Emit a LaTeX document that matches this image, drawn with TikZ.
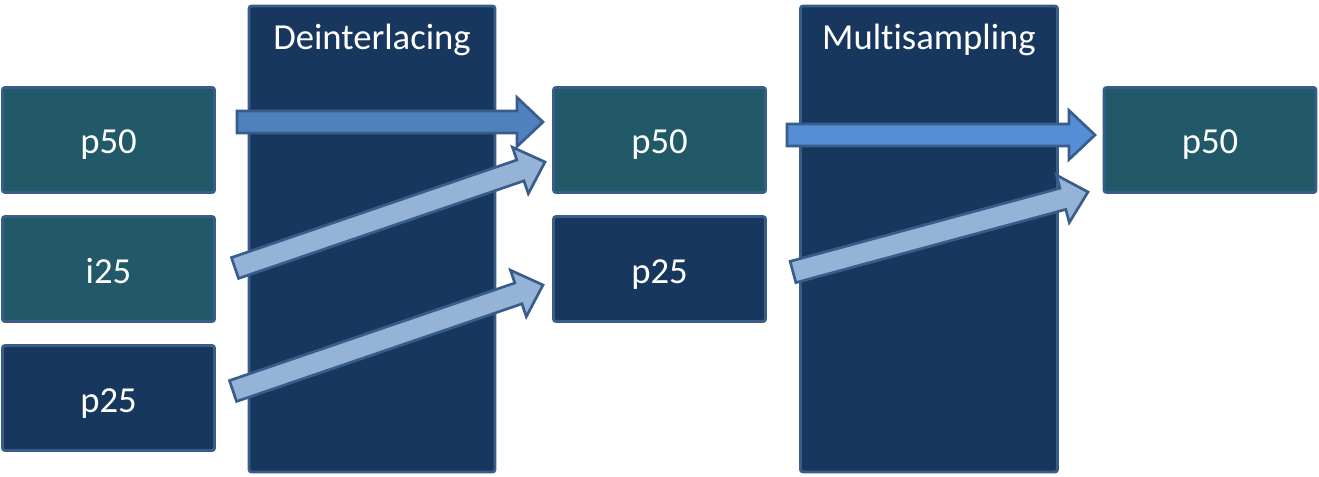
\documentclass[tikz,border=0pt]{standalone}
\usepackage{fontspec}
\setmainfont{Carlito}[Ligatures=NoCommon]
\usetikzlibrary{positioning, calc}

\definecolor{edgeblue}{HTML}{385D8A}
\definecolor{tealfill}{HTML}{215968}
\definecolor{navyfill}{HTML}{17375E}
\definecolor{flowmid}{HTML}{4F81BD}
\definecolor{flowlight}{HTML}{95B3D7}
\definecolor{flowbright}{HTML}{558ED5}

\tikzset{
  frame/.style={draw=edgeblue, line width=2.2pt, rounded corners=2pt, outer sep=0pt},
  stream/.style={frame, text=white, minimum width=159pt, minimum height=78.75pt,
    text height=21pt, text depth=0pt, font=\fontsize{27.5}{33}\selectfont},
  stage/.style={frame, fill=navyfill, minimum height=349.5pt},
  stagetitle/.style={text=white, text height=21pt, text depth=0pt,
    font=\fontsize{27.5}{33}\selectfont},
  flow/.style={draw=edgeblue, line width=2pt, line join=miter},
}

% block arrow from #2 to #3
\newcommand{\blockarrow}[3]{%
  \draw[flow,#1] let \p1=($(#3)-(#2)$), \n1={veclen(\x1,\y1)}, \n2={atan2(\y1,\x1)} in
    {[shift={(#2)}, rotate=\n2]
    (0pt,-8.25pt) -- (\n1-19.5pt,-8.25pt) -- (\n1-19.5pt,-18.4pt) -- (\n1,0pt)
    -- (\n1-19.5pt,18.4pt) -- (\n1-19.5pt,8.25pt) -- (0pt,8.25pt) -- cycle};}

\begin{document}
\begin{tikzpicture}[x=0.75pt,y=-0.75pt]
  \useasboundingbox (0,0) rectangle (1319,477);

  % processing stages
  \node[stage, minimum width=184.5pt] (deint) at (372,239) {};
  \node[stage, minimum width=192.75pt] (msamp) at (929,239) {};
  \node[stagetitle] (deinttitle) at ($(deint.north)+(0,30)$) {Deinterlacing};
  \node[stagetitle] (msamptitle) at ($(msamp.north)+(0,30)$) {Multisampling};

  % input streams
  \node[stream, fill=tealfill] (inp50) at (108.5,140) {p50};
  \node[stream, fill=tealfill, below=18pt of inp50] (ini25) {i25};
  \node[stream, fill=navyfill, below=18pt of ini25] (inp25) {p25};

  % after deinterlacing
  \node[stream, fill=tealfill] (midp50) at (659.5,140) {p50};
  \node[stream, fill=navyfill, below=18pt of midp50] (midp25) {p25};

  % output
  \node[stream, fill=tealfill] (outp50) at (1210,140) {p50};

  % arrow ends
  \coordinate (a1s) at (237,122);  \coordinate (a1e) at (543,122);
  \coordinate (a2s) at (235,268);  \coordinate (a2e) at (545,162);
  \coordinate (a3s) at (233,391);  \coordinate (a3e) at (543,285);
  \coordinate (a4s) at (787,135);  \coordinate (a4e) at (1095,135);
  \coordinate (a5s) at (793,272);  \coordinate (a5e) at (1088,192);

  \blockarrow{fill=flowmid}{a1s}{a1e}
  \blockarrow{fill=flowlight}{a2s}{a2e}
  \blockarrow{fill=flowlight}{a3s}{a3e}
  \blockarrow{fill=flowbright}{a4s}{a4e}
  \blockarrow{fill=flowlight}{a5s}{a5e}
\end{tikzpicture}
\end{document}
